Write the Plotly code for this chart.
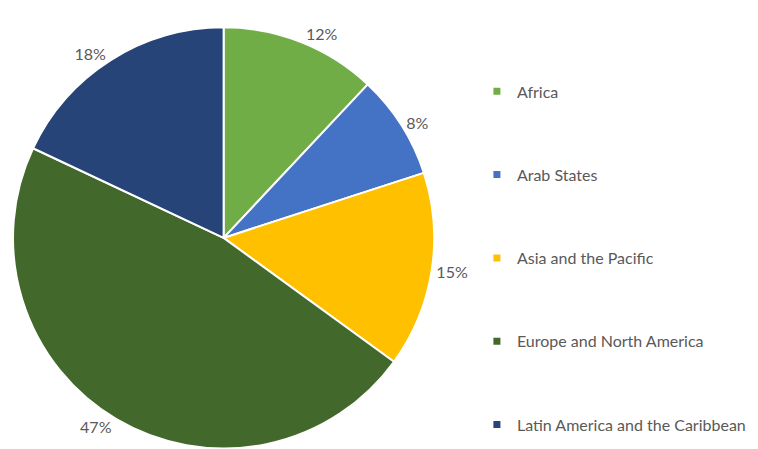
import plotly.graph_objects as go

regions = ["Africa", "Arab States", "Asia and the Pacific",
           "Europe and North America", "Latin America and the Caribbean"]
shares = [12, 8, 15, 47, 18]
colors = ["#70AD47", "#4472C4", "#FFC000", "#43682B", "#264478"]

W, H = 758, 449
FONT = "Lato, Open Sans, sans-serif"
fig = go.Figure()
fig.add_trace(go.Pie(
    labels=regions, values=shares, sort=False, direction="clockwise", rotation=0,
    marker=dict(colors=colors, line=dict(color="white", width=2)),
    textinfo="percent", textposition="outside",
    textfont=dict(family=FONT, size=16, color="#595959"),
    showlegend=False, hoverinfo="label+percent",
    domain=dict(x=[0, 424 / W], y=[3 / H, 431 / H]),
))
for i, (name, c) in enumerate(zip(regions, colors)):
    fig.add_trace(go.Scatter(
        x=[None], y=[None], mode="markers", name=name,
        marker=dict(symbol="square", size=7, color=c),
        legendgroup=f"g{i}", showlegend=True,
    ))

fig.update_layout(
    width=W, height=H, margin=dict(l=0, r=0, t=0, b=0),
    paper_bgcolor="white", plot_bgcolor="white",
    xaxis=dict(visible=False), yaxis=dict(visible=False),
    legend=dict(x=467 / W, xanchor="left", y=(H - 67) / H, yanchor="top",
                traceorder="grouped", tracegroupgap=59.5, itemwidth=30,
                font=dict(family=FONT, size=16, color="#595959"),
                bgcolor="rgba(0,0,0,0)"),
)
fig.write_html("out.html")
